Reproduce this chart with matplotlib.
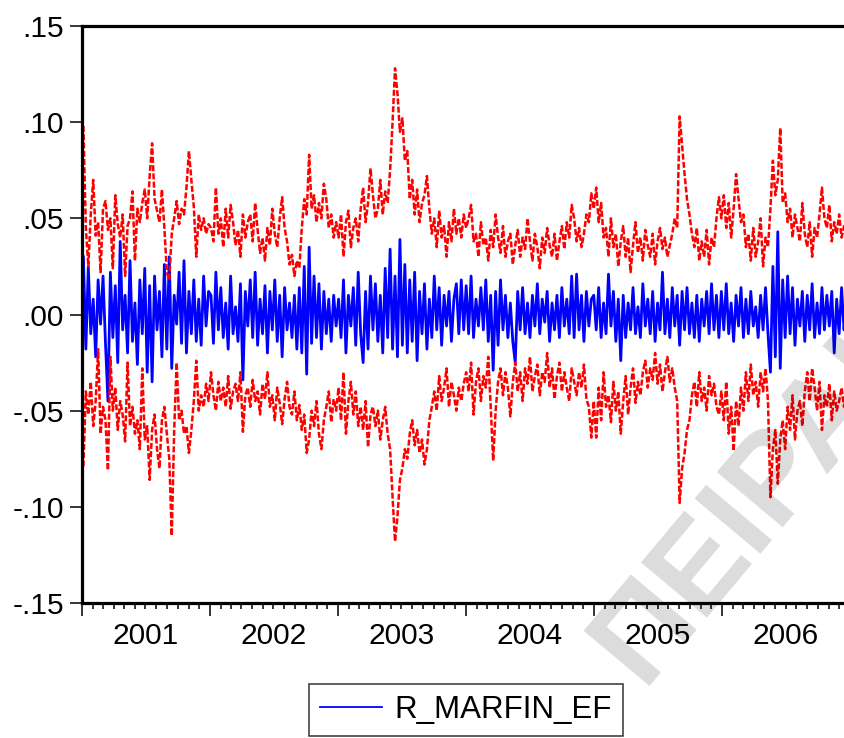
import numpy as np
import pandas as pd
import matplotlib
matplotlib.use("Agg")
import matplotlib.pyplot as plt
import matplotlib.dates as mdates
from matplotlib.lines import Line2D
from matplotlib.transforms import blended_transform_factory

plt.rcParams['font.family'] = ['Liberation Sans', 'DejaVu Sans']

# weekly readings, in thousandths (0.001) of a return
r_marfin_ef = [
    30, -18, 25, -10, 8, -22, 18, -5, 20, -15, -45, 22, -12, 15, -25, 38, -8, 10, -20, 28, -14, 6, -26, 18, -10, 24,
    -30, 15, -35, 20, -8, 12, -22, 26, -18, 30, -28, 10, -5, 22, -15, 28, -20, 12, -10, 18, -14, 8, -16, 20, -6, 12,
    10, -15, 22, -8, 14, -12, 6, -18, 20, -10, 4, -14, 16, -34, 12, -6, 18, -12, 22, -16, 8, -10, 15, -20, 12, -8,
    18, -14, 10, -22, 14, -8, 6, -12, 10, -18, 14, -20, 25, -31, 35, -15, 20, -12, 16, -18, 12, -10, 8, -14, 10, -6,
    8, -12, 18, -20, 10, -6, 14, -16, 22, -10, -25, 12, -18, 20, -8, 16, -14, 10, -20, 24, -12, 34, -18, 20, -22, 39,
    -16, 26, -20, 18, -14, 22, -24, 12, -10, 16, -18, 8, -12, 20, -8, 14, -16, 10, -6, 12, -14, 8, 16, -10, 18, -8,
    15, -10, 20, -12, 8, -6, 14, -8, 18, -14, 10, -29, 12, -16, 18, -8, 10, -12, 6, -14, -25, 12, -8, 14, -10, 6,
    -12, 10, -6, 16, -10, 8, -4, 12, -14, 6, -8, 10, -12, 14, -6, 8, -10, 20, -12, 21, -8, 10, -14, 12, -6, 8,
    10, -8, 14, -12, 6, -10, 21, -6, 12, -14, 8, -24, 10, -12, 6, -8, 14, -10, 4, -12, 16, -6, 8, -10, 12, -14,
    6, -8, 22, -10, 8, -12, 14, -6, 10, -16, 12, -8, 14, -10, 6, -12, 10, -14, 8, -6, 12, -10, 16, -8, 10, -12,
    12, -8, 16, -10, 6, -14, 10, -6, 14, -12, 8, -10, 12, -6, 4, -12, 10, -8, 14, -10, -30, 25, -22, 43, -28, 18,
    -12, 20, -10, 14, -16, 8, -6, 12, -14, 10, -8, 16, -12, 6, -10, 14, -8, 10, -6, 12, -20, 8, -10, 14, -8, 10,
]

band_upper = [
    98, 45, 25, 52, 70, 41, 48, 22, 55, 59, 44, 50, 24, 62, 47, 40, 52, 20, 46, 50, 64, 28, 55, 48, 58, 65,
    50, 72, 89, 60, 54, 48, 65, 45, 22, 18, 42, 50, 59, 47, 55, 52, 66, 85, 70, 56, 30, 52, 44, 50, 42, 47,
    45, 38, 66, 42, 50, 35, 55, 40, 57, 48, 36, 44, 30, 52, 40, 48, 52, 38, 58, 44, 32, 40, 28, 45, 36, 55,
    42, 35, 50, 61, 45, 38, 26, 31, 20, 28, 24, 45, 60, 52, 83, 55, 62, 48, 58, 50, 68, 60, 45, 52, 40, 48,
    40, 52, 30, 48, 54, 35, 45, 50, 38, 55, 66, 48, 58, 76, 62, 50, 55, 70, 52, 64, 58, 75, 100, 128, 115, 95,
    102, 80, 85, 60, 70, 52, 65, 48, 58, 62, 72, 55, 42, 50, 35, 54, 40, 46, 30, 48, 38, 55, 42, 50, 40, 52,
    45, 50, 57, 38, 42, 30, 48, 36, 40, 28, 44, 35, 52, 40, 32, 46, 30, 38, 42, 26, 36, 44, 30, 40, 34, 50,
    38, 28, 42, 35, 24, 40, 32, 45, 36, 30, 42, 28, 38, 46, 34, 48, 40, 57, 50, 38, 45, 35, 42, 52, 48, 63,
    55, 66, 48, 58, 40, 45, 30, 50, 35, 42, 25, 38, 46, 30, 40, 22, 36, 48, 32, 40, 28, 44, 36, 30, 42, 26,
    38, 45, 34, 40, 30, 36, 42, 50, 45, 103, 88, 73, 60, 52, 42, 35, 45, 28, 38, 30, 44, 26, 40, 35, 50, 61,
    50, 62, 45, 58, 40, 55, 73, 60, 48, 52, 35, 42, 28, 45, 30, 38, 50, 25, 40, 35, 55, 80, 62, 70, 97, 58,
    63, 48, 55, 40, 52, 45, 38, 58, 42, 35, 48, 30, 45, 40, 52, 66, 50, 45, 57, 38, 48, 42, 52, 40, 46, 44,
]

band_lower = [
    -79, -40, -52, -35, -58, -45, -18, -62, -48, -55, -81, -22, -50, -38, -60, -45, -52, -66, -25, -58, -48, -62,
    -55, -70, -28, -65, -58, -86, -60, -52, -70, -80, -55, -48, -62, -75, -115, -60, -25, -55, -50, -62, -58, -72,
    -60, -45, -24, -50, -42, -48, -36, -45,
    -30, -42, -50, -35, -45, -38, -48, -32, -49, -40, -36, -45, -30, -61, -42, -38, -48, -34, -45, -40, -52, -36,
    -44, -30, -48, -42, -55, -38, -46, -57, -44, -35, -48, -52, -40, -55, -47, -60, -52, -72, -65, -50, -58, -45,
    -62, -70, -55, -48, -40, -56, -44, -50,
    -38, -55, -30, -62, -45, -35, -52, -40, -58, -48, -60, -45, -69, -52, -48, -58, -50, -65, -55, -48, -62, -70,
    -95, -118, -105, -86, -80, -70, -75, -62, -55, -68, -60, -72, -65, -78, -70, -55, -48, -40, -50, -32, -45, -38,
    -28, -48, -35, -42, -50, -38, -45, -36,
    -30, -40, -25, -52, -35, -28, -45, -32, -38, -22, -48, -76, -50, -35, -28, -42, -30, -38, -53, -35, -25, -40,
    -30, -45, -28, -36, -22, -40, -32, -26, -42, -30, -35, -20, -38, -28, -44, -32, -25, -40, -30, -38, -45, -28,
    -35, -42, -30, -38, -26, -44, -48, -64,
    -45, -64, -38, -55, -30, -48, -42, -56, -35, -50, -40, -62, -45, -32, -52, -38, -28, -46, -35, -42, -30, -24,
    -38, -28, -34, -20, -36, -26, -40, -30, -22, -35, -28, -38, -45, -98, -80, -72, -60, -55, -42, -35, -48, -30,
    -45, -38, -50, -32, -42, -36, -48, -52,
    -40, -55, -35, -62, -48, -71, -45, -58, -38, -50, -30, -45, -26, -42, -35, -48, -30, -40, -28, -45, -95, -70,
    -60, -88, -65, -55, -70, -48, -60, -42, -65, -50, -45, -58, -40, -30, -45, -28, -38, -50, -35, -60, -42, -48,
    -36, -55, -40, -50, -45, -38, -48, -42,
]

years = [2001, 2002, 2003, 2004, 2005, 2006]
y_ticks = [0.15, 0.10, 0.05, 0.00, -0.05, -0.10, -0.15]
y_labels = ['.15', '.10', '.05', '.00', '-.05', '-.10', '-.15']

dates = pd.date_range('2001-01-05', periods=len(r_marfin_ef), freq='W-FRI')
ret = np.array(r_marfin_ef) / 1000.0
upper = np.array(band_upper) / 1000.0
lower = np.array(band_lower) / 1000.0

W, H = 844, 738
fig = plt.figure(figsize=(W / 100, H / 100), dpi=100)
ax = fig.add_axes([82 / W, (H - 603) / H, (850 - 82) / W, (603 - 26) / H])

ax.plot(dates, ret, color='#0000ff', lw=2.0)
ax.plot(dates, upper, color='#ff0000', lw=1.8, dashes=(2.4, 0.9))
ax.plot(dates, lower, color='#ff0000', lw=1.8, dashes=(2.4, 0.9))

ax.set_xlim(pd.Timestamp('2001-01-01'), pd.Timestamp('2007-01-01'))
ax.set_ylim(-0.15, 0.15)

for side in ['left', 'bottom', 'top', 'right']:
    ax.spines[side].set_linewidth(2.3)

ax.set_yticks(y_ticks)
ax.set_yticklabels(y_labels)
ax.tick_params(axis='y', direction='out', length=8.5, width=1.1, pad=4.5, labelsize=21.5)

ax.xaxis.set_major_locator(mdates.YearLocator())
ax.xaxis.set_minor_locator(mdates.MonthLocator())
ax.xaxis.set_major_formatter(plt.NullFormatter())
ax.tick_params(axis='x', which='major', direction='out', length=9, width=1.1)
ax.tick_params(axis='x', which='minor', direction='out', length=4.5, width=1.1)

trans = blended_transform_factory(ax.transData, ax.transAxes)
for yr in years:
    ax.text(pd.Timestamp(f'{yr}-07-02'), -0.057, str(yr), transform=trans,
            ha='center', va='center', fontsize=21.5)

handle = Line2D([], [], color='#0000ff', lw=1.3)
leg = fig.legend([handle], ['R_MARFIN_EF'], loc='center',
                 bbox_to_anchor=(466 / W, (H - 710) / H), bbox_transform=fig.transFigure,
                 fontsize=22.5, frameon=True, fancybox=False, handlelength=2.0,
                 handletextpad=0.4, borderpad=0.35, borderaxespad=0)
leg.get_frame().set_edgecolor('black')
leg.get_frame().set_linewidth(1.1)

# faint diagonal watermark drawn over the plot
fig.text(642 / W, (H - 686) / H, 'ΠΕΙΡΑΙΩΣ', ha='left', va='baseline',
         fontsize=90, fontweight='bold', color='black', alpha=0.14,
         rotation=50, rotation_mode='anchor', zorder=10)

fig.savefig('out.png', dpi=100)
